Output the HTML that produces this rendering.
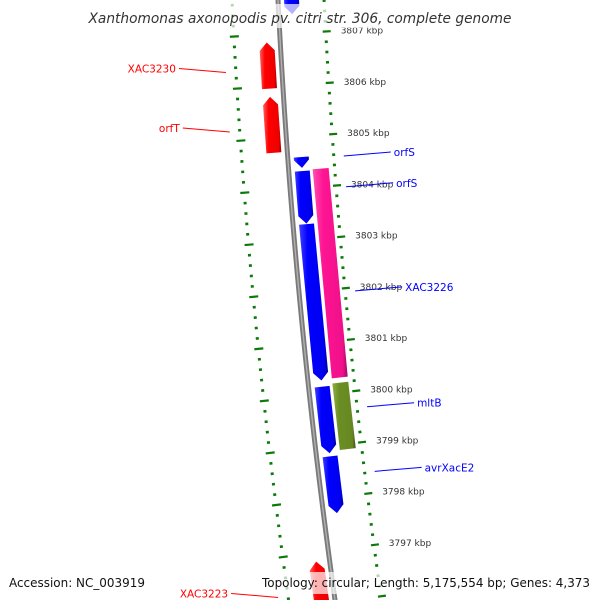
<!DOCTYPE html>
<html><head><meta charset="utf-8"><style>
html,body{margin:0;padding:0;background:#fff;}
svg{display:block;font-family:"DejaVu Sans","Liberation Sans",sans-serif;}
</style></head><body>
<svg id="map" width="600" height="600" viewBox="0 0 600 600" xmlns="http://www.w3.org/2000/svg">
<defs>
<linearGradient id="gr" x1="0" x2="1" y1="0" y2="0"><stop offset="0" stop-color="#ff6060"/><stop offset="0.3" stop-color="#ff0000"/><stop offset="0.85" stop-color="#ee0000"/><stop offset="1" stop-color="#990000"/></linearGradient>
<linearGradient id="gb" x1="0" x2="1" y1="0" y2="0"><stop offset="0" stop-color="#4040ff"/><stop offset="0.3" stop-color="#0000ff"/><stop offset="0.85" stop-color="#0000ee"/><stop offset="1" stop-color="#000099"/></linearGradient>
<linearGradient id="gp" x1="0" x2="1" y1="0" y2="0"><stop offset="0" stop-color="#ff50b0"/><stop offset="0.3" stop-color="#ff1493"/><stop offset="0.85" stop-color="#f0108a"/><stop offset="1" stop-color="#a00a60"/></linearGradient>
<linearGradient id="go" x1="0" x2="1" y1="0" y2="0"><stop offset="0" stop-color="#8fae40"/><stop offset="0.3" stop-color="#6b8e23"/><stop offset="0.85" stop-color="#668822"/><stop offset="1" stop-color="#3d5214"/></linearGradient>
</defs>
<g id="rings"></g>
<g id="backbone"></g>
<g id="genes"></g>
<g id="labels"></g>
<g id="legend"></g>
</svg>
<script>
// ---- data ----
const tickStartKbp = 3796;
const tickEndKbp = 3808;
const tickStepKbp = 0.2;
const tickLabels = [3807,3806,3805,3804,3803,3802,3801,3800,3799,3798,3797];

const geneNames = ['blue-top','XAC3230','orfT','orfS-a','orfS-b','XAC3226','XAC3226-rna','mltB','mltB-partner','avrXacE2','XAC3223'];
const geneStart = [3807.9, 3806.85, 3805.80, 3804.60, 3804.33, 3803.30, 3804.35, 3800.15, 3800.19, 3798.80, 3796.83];
const geneEnd   = [3807.37,3805.96, 3804.72, 3804.39, 3803.31, 3800.27, 3800.29, 3798.86, 3798.90, 3797.70, 3795.8];
const geneTrack = [1,-1,-1,1,1,1,2,1,2,1,-1];
const geneColor = ['gb','gr','gr','gb','gb','gb','gp','gb','go','gb','gr'];
const geneArrow = ['down','up','up','down','down','down','none','down','none','down','up'];

const labelText = ['orfS','orfS','XAC3226','mltB','avrXacE2','XAC3230','orfT','XAC3223'];
const labelKbp  = [3804.56,3803.96,3801.93,3799.67,3798.41,3806.32,3805.18,3796.25];
const labelSide = [1,1,1,1,1,-1,-1,-1];

// ---- geometry ----
const NS='http://www.w3.org/2000/svg';
const B=0.05, C=7.5e-5, X0=278;
function Y(k){return 34+(3807-k)*51.7;}
function P(k,d){const y=Y(k);const x=X0+B*y+C*y*y;const s=B+2*C*y;const n=Math.sqrt(1+s*s);return [x+d/n, y-d*s/n];}
function mk(tag,attrs,parent,name){const e=document.createElementNS(NS,tag);for(const a in attrs)e.setAttribute(a,attrs[a]);


parent.appendChild(e);return e;}
const rings=document.getElementById('rings'),bb=document.getElementById('backbone'),gg=document.getElementById('genes'),lg=document.getElementById('labels'),leg=document.getElementById('legend');

// rings
for(let i=0;;i++){const k=tickEndKbp-i*tickStepKbp;if(k<tickStartKbp-1e-6)break;
 const major=Math.abs(k-Math.round(k))<1e-6;
 [[1],[-1]].forEach(([sd])=>{const a=major?(sd>0?43:-41):sd*44.5, b=major?(sd>0?51:-50):sd*47.5;
  const p1=P(k,a),p2=P(k,b);
  mk('line',{x1:p1[0],y1:p1[1],x2:p2[0],y2:p2[1],stroke:'#0b7a0b','stroke-width':major?2.2:2.6},rings,major?'major-tick':'minor-tick');});
}
tickLabels.forEach(k=>{const p=P(k,61);const t=mk('text',{x:p[0],y:p[1]+3,'font-size':9,fill:'#333'},rings,'tick-label');t.textContent=k+' kbp';});

// backbone
let pts=[];for(let y=-10;y<=610;y+=10){pts.push((X0+B*y+C*y*y)+','+y);}
mk('polyline',{points:pts.join(' '),fill:'none',stroke:'#7a7a7a','stroke-width':5},bb,'backbone');
mk('polyline',{points:pts.join(' '),fill:'none',stroke:'#b0b0b0','stroke-width':1.4},bb,'backbone-highlight');

// genes
const trackD={'-1':[-21,-6],'1':[6,21],'2':[24,40]};
const head=8/51.7;
geneStart.forEach((s,i)=>{const e=geneEnd[i];const [d1,d2]=trackD[geneTrack[i]];const dm=(d1+d2)/2;let poly;
 if(geneArrow[i]==='down'){const b=e+head;poly=[P(s,d1),P(b,d1),P(e,dm),P(b,d2),P(s,d2)];}
 else if(geneArrow[i]==='up'){const b=s-head;poly=[P(e,d1),P(b,d1),P(s,dm),P(b,d2),P(e,d2)];}
 else poly=[P(s,d1),P(e,d1),P(e,d2),P(s,d2)];
 mk('polygon',{points:poly.map(p=>p.join(',')).join(' '),fill:'url(#'+geneColor[i]+')'},gg,'gene-'+geneNames[i]);
});

// labels
labelText.forEach((t,i)=>{const sd=labelSide[i];const col=sd>0?'#0000ff':'#ff0000';
 const a=P(labelKbp[i],sd*56);const b=[a[0]+sd*47,a[1]-4];
 mk('line',{x1:a[0],y1:a[1],x2:b[0],y2:b[1],stroke:col,'stroke-width':1},lg,'label-line');
 const tx=mk('text',{x:b[0]+sd*3,y:b[1]+4,'font-size':10.5,fill:col,'text-anchor':sd>0?'start':'end'},lg,'gene-label');tx.textContent=t;});

// legend
mk('rect',{x:86,y:4,width:428,height:24,fill:'#fff','fill-opacity':0.7},leg,'title-background');
let t=mk('text',{x:300,y:23,'font-size':14.5,'font-style':'italic',fill:'#333','text-anchor':'middle',textLength:423,lengthAdjust:'spacingAndGlyphs'},leg,'chart-title');
t.textContent='Xanthomonas axonopodis pv. citri str. 306, complete genome';
mk('rect',{x:6,y:572,width:142,height:22,fill:'#fff','fill-opacity':0.7},leg,'accession-background');
t=mk('text',{x:9,y:587,'font-size':12.5,fill:'#111',textLength:136,lengthAdjust:'spacingAndGlyphs'},leg,'accession-text');
t.textContent='Accession: NC_003919';
mk('rect',{x:258,y:572,width:336,height:22,fill:'#fff','fill-opacity':0.7},leg,'topology-background');
t=mk('text',{x:262,y:587,'font-size':12.5,fill:'#111',textLength:328,lengthAdjust:'spacingAndGlyphs'},leg,'topology-text');
t.textContent='Topology: circular; Length: 5,175,554 bp; Genes: 4,373';
</script>
</body></html>
